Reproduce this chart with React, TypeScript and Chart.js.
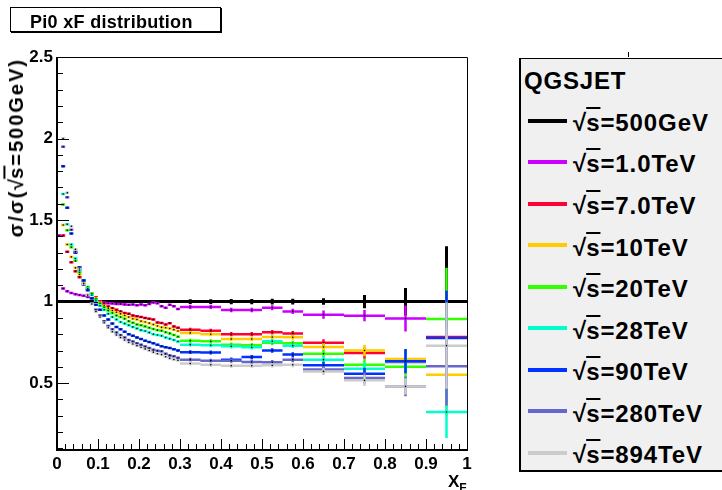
import React, { useEffect, useRef } from "react";
import { Chart, registerables } from "chart.js";

Chart.register(...registerables);

const FONT = '"Liberation Sans", Arial, Helvetica, sans-serif';

// ---- axes ----
const xTickValues = [0, 0.1, 0.2, 0.3, 0.4, 0.5, 0.6, 0.7, 0.8, 0.9, 1];
const xTickLabels = ["0", "0.1", "0.2", "0.3", "0.4", "0.5", "0.6", "0.7", "0.8", "0.9", "1"];
const yTickValues = [0.5, 1, 1.5, 2, 2.5];
const yTickLabels = ["0.5", "1", "1.5", "2", "2.5"];
const xMin = 0;
const xMax = 1;
const yMin = 0.09;
const yMax = 2.5;

// ---- histogram binning (variable widths) ----
const binEdges = [
  0, 0.01, 0.02, 0.03, 0.04, 0.05, 0.06, 0.07, 0.08, 0.09,
  0.1, 0.11, 0.12, 0.13, 0.14, 0.15, 0.16, 0.17, 0.18, 0.19,
  0.2, 0.21, 0.22, 0.23, 0.24, 0.25, 0.26, 0.27, 0.28, 0.29,
  0.3, 0.35, 0.4, 0.45, 0.5, 0.55, 0.6, 0.7, 0.8, 0.9, 1.0,
];

// ---- series (ratio to sqrt(s)=500GeV), one value per bin ----
const ratio500GeV = [
  1, 1, 1, 1, 1, 1, 1, 1, 1, 1,
  1, 1, 1, 1, 1, 1, 1, 1, 1, 1,
  1, 1, 1, 1, 1, 1, 1, 1, 1, 1,
  1, 1, 1, 1, 1, 1, 1, 1, 1, 1,
];
const ratio1TeV = [
  1.405, 1.08, 1.063, 1.053, 1.045, 1.04, 1.036, 1.029, 1.02, 1.008,
  1.0, 0.993, 0.99, 0.988, 0.986, 0.985, 0.983, 0.98, 0.982, 0.978,
  0.982, 0.978, 0.985, 0.995, 0.99, 0.972, 0.962, 0.98, 0.972, 0.955,
  0.967, 0.967, 0.948, 0.948, 0.962, 0.94, 0.92, 0.914, 0.896, null,
];
const ratio7TeV = [
  null, 1.405, 1.305, 1.241, 1.186, 1.15, 1.11, 1.08, 1.05, 1.025,
  1.0, 0.985, 0.97, 0.96, 0.95, 0.94, 0.93, 0.925, 0.915, 0.91,
  0.905, 0.9, 0.895, 0.89, 0.872, 0.869, 0.86, 0.868, 0.848, 0.84,
  0.828, 0.822, 0.8, 0.8, 0.812, 0.805, 0.747, 0.685, 0.63, 0.783,
];
const ratio10TeV = [
  null, 1.47, 1.35, 1.274, 1.207, 1.166, 1.12, 1.08, 1.05, 1.02,
  0.995, 0.975, 0.96, 0.945, 0.935, 0.925, 0.915, 0.905, 0.895, 0.89,
  0.88, 0.875, 0.868, 0.86, 0.85, 0.842, 0.84, 0.835, 0.828, 0.82,
  0.808, 0.8, 0.771, 0.771, 0.783, 0.781, 0.722, 0.7, 0.648, 0.552,
];
const ratio20TeV = [
  null, 1.595, 1.437, 1.333, 1.25, 1.18, 1.13, 1.09, 1.05, 1.015,
  0.99, 0.965, 0.945, 0.93, 0.915, 0.905, 0.895, 0.88, 0.87, 0.86,
  0.855, 0.848, 0.84, 0.832, 0.825, 0.822, 0.812, 0.805, 0.795, 0.785,
  0.76, 0.757, 0.736, 0.733, 0.747, 0.745, 0.681, 0.613, 0.6, 0.894,
];
const ratio28TeV = [
  null, 1.66, 1.474, 1.35, 1.264, 1.19, 1.13, 1.08, 1.04, 1.005,
  0.975, 0.95, 0.925, 0.905, 0.89, 0.875, 0.865, 0.855, 0.845, 0.835,
  0.825, 0.82, 0.81, 0.8, 0.795, 0.79, 0.78, 0.772, 0.765, 0.755,
  0.736, 0.732, 0.726, 0.72, 0.757, 0.73, 0.644, 0.589, 0.633, 0.323,
];
const ratio90TeV = [
  null, 1.83, 1.575, 1.417, 1.3, 1.21, 1.13, 1.07, 1.02, 0.98,
  0.95, 0.915, 0.89, 0.865, 0.845, 0.83, 0.815, 0.8, 0.79, 0.78,
  0.77, 0.76, 0.752, 0.745, 0.735, 0.726, 0.72, 0.715, 0.708, 0.7,
  0.69, 0.688, 0.644, 0.66, 0.7, 0.675, 0.609, 0.558, 0.635, 0.777,
];
const ratio280TeV = [
  null, 1.95, 1.64, 1.44, 1.305, 1.2, 1.104, 1.04, 0.99, 0.95,
  0.915, 0.88, 0.85, 0.83, 0.81, 0.795, 0.78, 0.765, 0.755, 0.745,
  0.735, 0.725, 0.715, 0.705, 0.698, 0.695, 0.68, 0.67, 0.665, 0.655,
  0.644, 0.638, 0.638, 0.63, 0.628, 0.644, 0.583, 0.532, 0.48, 0.603,
];
const ratio894TeV = [
  null, 2.0, 1.667, 1.462, 1.32, 1.2, 1.11, 1.04, 0.985, 0.94,
  0.905, 0.87, 0.84, 0.815, 0.795, 0.78, 0.765, 0.75, 0.74, 0.73,
  0.72, 0.71, 0.7, 0.69, 0.68, 0.675, 0.662, 0.652, 0.645, 0.64,
  0.62, 0.613, 0.607, 0.607, 0.61, 0.613, 0.572, 0.517, 0.48, 0.73,
];

// statistical errors: one estimate for the fine 0.01 bins, then the 10 wide bins
const errFine = [0.004, 0.006, 0.006, 0.006, 0.006, 0.006, 0.006, 0.006, 0.006];
const errWide500GeV = [0.015, 0.015, 0.016, 0.016, 0.017, 0.018, 0.02, 0.04, 0.084, 0.34];
const errWide1TeV = [0.013, 0.013, 0.014, 0.014, 0.015, 0.016, 0.025, 0.035, 0.08, 0];
const errWide7TeV = [0.012, 0.012, 0.013, 0.013, 0.014, 0.015, 0.022, 0.035, 0.07, 0.28];
const errWide10TeV = [0.012, 0.012, 0.013, 0.013, 0.014, 0.015, 0.022, 0.035, 0.062, 0.25];
const errWide20TeV = [0.012, 0.012, 0.013, 0.013, 0.014, 0.015, 0.022, 0.035, 0.07, 0.313];
const errWide28TeV = [0.012, 0.012, 0.013, 0.013, 0.014, 0.015, 0.022, 0.035, 0.07, 0.16];
const errWide90TeV = [0.012, 0.012, 0.013, 0.013, 0.014, 0.015, 0.022, 0.035, 0.075, 0.29];
const errWide280TeV = [0.012, 0.012, 0.013, 0.013, 0.014, 0.015, 0.022, 0.035, 0.06, 0.24];
const errWide894TeV = [0.012, 0.012, 0.013, 0.013, 0.014, 0.015, 0.022, 0.035, 0.05, 0.265];

const energyLabels = ["500GeV", "1.0TeV", "7.0TeV", "10TeV", "20TeV", "28TeV", "90TeV", "280TeV", "894TeV"];
const seriesColors = ["#000000", "#cc00ff", "#ff0033", "#ffcc00", "#33ff00", "#00ffcc", "#0033ff", "#6666cc", "#cccccc"];
const seriesValues = [ratio500GeV, ratio1TeV, ratio7TeV, ratio10TeV, ratio20TeV, ratio28TeV, ratio90TeV, ratio280TeV, ratio894TeV];
const seriesWideErr = [errWide500GeV, errWide1TeV, errWide7TeV, errWide10TeV, errWide20TeV, errWide28TeV, errWide90TeV, errWide280TeV, errWide894TeV];
const FINE_BINS = 30;

type Pt = { x: number; y: number | null; m?: boolean };

function buildBars(values: (number | null)[]) {
  const pts: Pt[] = [];
  for (let i = 0; i < values.length; i++) {
    const v = values[i];
    if (v === null || v === undefined) continue;
    const lo = binEdges[i];
    const hi = binEdges[i + 1];
    pts.push({ x: lo, y: v });
    pts.push({ x: (lo + hi) / 2, y: v, m: true });
    pts.push({ x: hi, y: v });
    pts.push({ x: hi, y: null });
  }
  return pts;
}

function buildErrors(values: (number | null)[], fine: number, wide: number[]) {
  const pts: Pt[] = [];
  for (let i = 0; i < values.length; i++) {
    const v = values[i];
    if (v === null || v === undefined) continue;
    const e = i < FINE_BINS ? fine : wide[i - FINE_BINS];
    if (!e) continue;
    const c = (binEdges[i] + binEdges[i + 1]) / 2;
    pts.push({ x: c, y: v - e });
    pts.push({ x: c, y: v + e });
    pts.push({ x: c, y: null });
  }
  return pts;
}

const frameAndTicks = {
  id: "frameAndTicks",
  afterDatasetsDraw(chart: any) {
    const { ctx, chartArea: a, scales } = chart;
    const xs = scales.x;
    const ys = scales.y;
    ctx.save();
    ctx.strokeStyle = "#000";
    ctx.lineWidth = 1;
    ctx.beginPath();
    ctx.moveTo(a.left, a.top + 0.5);
    ctx.lineTo(a.right + 0.5, a.top + 0.5);
    ctx.lineTo(a.right + 0.5, a.bottom);
    ctx.stroke();
    // axis lines
    ctx.lineWidth = 2;
    ctx.beginPath();
    ctx.moveTo(a.left, a.top);
    ctx.lineTo(a.left, a.bottom);
    ctx.lineTo(a.right + 1, a.bottom);
    ctx.stroke();
    // y ticks (inside)
    ctx.lineWidth = 1;
    ctx.beginPath();
    for (let k = 1; k <= 25; k++) {
      const v = k / 10;
      const py = Math.round(ys.getPixelForValue(v)) + 0.5;
      const major = k % 5 === 0;
      ctx.moveTo(a.left, py);
      ctx.lineTo(a.left + (major ? 12 : 6), py);
    }
    // x ticks (inside)
    for (let k = 0; k <= 50; k++) {
      const v = k / 50;
      const px = Math.round(xs.getPixelForValue(v)) + 0.5;
      const major = k % 5 === 0;
      ctx.moveTo(px, a.bottom);
      ctx.lineTo(px, a.bottom - (major ? 11 : 6));
    }
    ctx.stroke();
    ctx.restore();
  },
};

const tickFont = { family: FONT, size: 17, weight: "bold" as const };

export default function App() {
  const ref = useRef<HTMLCanvasElement>(null);

  useEffect(() => {
    document.body.style.margin = "0";
    const datasets: any[] = [];
    const n = seriesValues.length;
    seriesValues.forEach((vals, i) => {
      const color = seriesColors[i];
      const lw = i === 0 ? 3 : 2.5;
      datasets.push({
        type: "line",
        label: energyLabels[i],
        data: buildBars(vals),
        borderColor: color,
        backgroundColor: color,
        borderWidth: lw,
        borderCapStyle: "butt",
        pointRadius: (c: any) => (c.raw && c.raw.m ? 0.8 : 0),
        pointBackgroundColor: "#000",
        pointBorderWidth: 0,
        pointHoverRadius: 0,
        spanGaps: false,
        tension: 0,
        fill: false,
        order: n - 1 - i,
      });
      datasets.push({
        type: "line",
        label: energyLabels[i] + " err",
        data: buildErrors(vals, errFine[i], seriesWideErr[i]),
        borderColor: color,
        backgroundColor: color,
        borderWidth: lw,
        borderCapStyle: "butt",
        pointRadius: 0,
        pointHoverRadius: 0,
        spanGaps: false,
        tension: 0,
        fill: false,
        order: n - 1 - i,
      });
    });

    const chart = new Chart(ref.current!, {
      type: "line",
      data: { datasets },
      options: {
        animation: false,
        responsive: false,
        devicePixelRatio: 1,
        events: [],
        layout: { padding: { top: 57, right: 255, bottom: 0, left: 0 } },
        plugins: { legend: { display: false }, tooltip: { enabled: false }, title: { display: false } },
        scales: {
          x: {
            type: "linear",
            min: xMin,
            max: xMax,
            grid: { display: false, drawTicks: false },
            border: { display: false },
            afterBuildTicks: (s: any) => {
              s.ticks = xTickValues.map((v) => ({ value: v }));
            },
            afterFit: (s: any) => {
              s.height = 40;
            },
            ticks: {
              autoSkip: false,
              maxRotation: 0,
              padding: 4,
              color: "#000",
              font: tickFont,
              callback: (_v: any, idx: number) => xTickLabels[idx],
            },
          },
          y: {
            type: "linear",
            min: yMin,
            max: yMax,
            grid: { display: false, drawTicks: false },
            border: { display: false },
            afterBuildTicks: (s: any) => {
              s.ticks = yTickValues.map((v) => ({ value: v }));
            },
            afterFit: (s: any) => {
              s.width = 57;
            },
            ticks: {
              autoSkip: false,
              padding: 4,
              color: "#000",
              font: tickFont,
              callback: (_v: any, idx: number) => yTickLabels[idx],
            },
          },
        },
      },
      plugins: [frameAndTicks],
    } as any);
    return () => chart.destroy();
  }, []);

  const legendRowTop = 120.5;
  const legendRowStep = 41.55;

  const sqrtS = (
    <>
      <span style={{ letterSpacing: 0 }}>√</span>
      <span style={{ textDecoration: "overline" }}>s</span>
    </>
  );

  return (
    <div
      style={{
        position: "fixed",
        left: 0,
        top: 0,
        width: 722,
        height: 490,
        overflow: "hidden",
        background: "#fff",
        fontFamily: FONT,
        color: "#000",
      }}
    >
      <canvas ref={ref} width={722} height={490} style={{ position: "absolute", left: 0, top: 0 }} />

      {/* title box */}
      <div
        style={{
          position: "absolute",
          left: 10,
          top: 7,
          width: 211,
          height: 25,
          boxSizing: "border-box",
          border: "1px solid #000",
          boxShadow: "1px 1px 0 #000",
          background: "#fff",
        }}
      />
      <div
        style={{
          position: "absolute",
          left: 30,
          top: 13,
          fontSize: 18,
          lineHeight: "18px",
          fontWeight: "bold",
          letterSpacing: 0.3,
          whiteSpace: "nowrap",
        }}
      >
        Pi0 xF distribution
      </div>

      {/* y axis title */}
      <div
        style={{
          position: "absolute",
          left: 5,
          top: 58,
          writingMode: "vertical-rl",
          transform: "rotate(180deg)",
          fontSize: 20,
          lineHeight: "22px",
          fontWeight: "bold",
          letterSpacing: 2,
          whiteSpace: "nowrap",
        }}
      >
        σ/σ({sqrtS}=500GeV)
      </div>

      {/* x axis title */}
      <div
        style={{
          position: "absolute",
          left: 448,
          top: 472.5,
          fontSize: 17,
          lineHeight: "17px",
          fontWeight: "bold",
          whiteSpace: "nowrap",
        }}
      >
        X<span style={{ fontSize: 12, position: "relative", top: 5 }}>F</span>
      </div>

      {/* legend */}
      <div style={{ position: "absolute", left: 628, top: 52, width: 1, height: 5, background: "#000" }} />
      <div
        style={{
          position: "absolute",
          left: 519,
          top: 58,
          width: 220,
          height: 414,
          boxSizing: "border-box",
          background: "#f0f0f0",
          border: "1px solid #000",
          borderLeftWidth: 2,
          borderBottomWidth: 2,
        }}
      />
      <div
        style={{
          position: "absolute",
          left: 524,
          top: 69.2,
          fontSize: 24,
          lineHeight: "24px",
          fontWeight: "bold",
          letterSpacing: 0.8,
          whiteSpace: "nowrap",
        }}
      >
        QGSJET
      </div>
      {energyLabels.map((lab, i) => {
        const cy = legendRowTop + legendRowStep * i;
        return (
          <React.Fragment key={lab}>
            <div
              style={{
                position: "absolute",
                left: 528,
                top: cy - 2,
                width: 39,
                height: 4,
                background: seriesColors[i],
              }}
            />
            <div
              style={{
                position: "absolute",
                left: 573,
                top: cy - 9.6,
                fontSize: 24,
                lineHeight: "24px",
                fontWeight: "bold",
                letterSpacing: 0.9,
                whiteSpace: "nowrap",
              }}
            >
              {sqrtS}={lab}
            </div>
          </React.Fragment>
        );
      })}
    </div>
  );
}
